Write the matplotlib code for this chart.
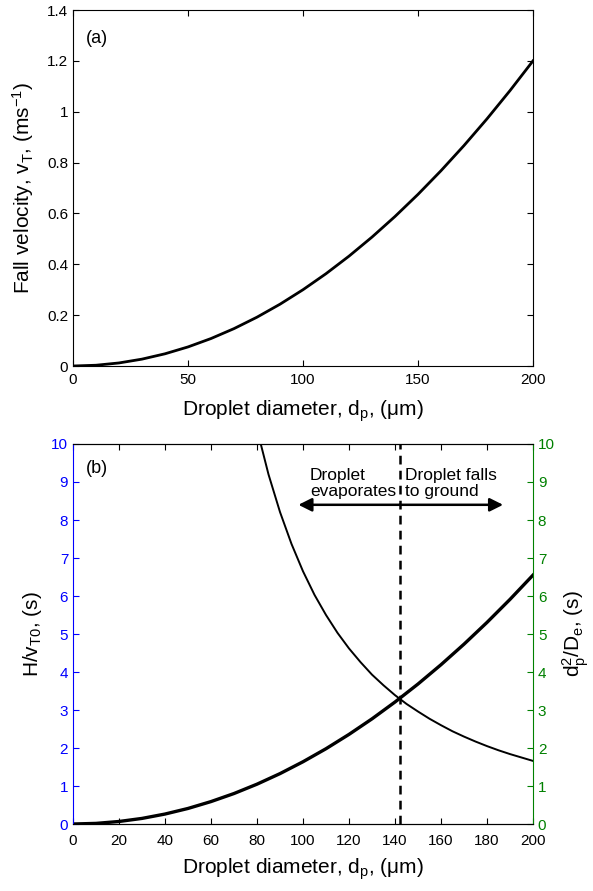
import numpy as np
import matplotlib
matplotlib.use("Agg")
import matplotlib.pyplot as plt

plt.rcParams['font.family'] = ['Liberation Sans', 'DejaVu Sans']
plt.rcParams['mathtext.fontset'] = 'custom'
plt.rcParams['mathtext.rm'] = 'Liberation Sans'
plt.rcParams['mathtext.it'] = 'Liberation Sans'

# panel (a): fall velocity vs droplet diameter
diam_a = [0, 10, 20, 30, 40, 50, 60, 70, 80, 90, 100,
          110, 120, 130, 140, 150, 160, 170, 180, 190, 200]
v_fall = [0, 0.003, 0.012, 0.027, 0.048, 0.075, 0.108, 0.147, 0.192, 0.243, 0.300,
          0.363, 0.432, 0.507, 0.588, 0.675, 0.768, 0.867, 0.972, 1.083, 1.200]

# panel (b): settling time H/vT0 (left axis)
diam_b = [0, 10, 20, 30, 40, 50, 60, 70, 80, 90, 100,
          110, 120, 130, 140, 150, 160, 170, 180, 190, 200]
t_fall = [0, 0.016, 0.066, 0.147, 0.262, 0.409, 0.590, 0.802, 1.048, 1.326, 1.638,
          1.981, 2.358, 2.767, 3.210, 3.684, 4.192, 4.732, 5.305, 5.911, 6.550]

# evaporation time dp^2/De (right axis)
diam_e = [80, 85, 90, 95, 100, 105, 110, 115, 120, 125, 130, 135, 140,
          145, 150, 155, 160, 165, 170, 175, 180, 185, 190, 195, 200]
t_evap = [10.39, 9.20, 8.21, 7.37, 6.65, 6.03, 5.50, 5.03, 4.62, 4.26, 3.93, 3.65, 3.39,
          3.16, 2.96, 2.77, 2.60, 2.44, 2.30, 2.17, 2.05, 1.94, 1.84, 1.75, 1.66]

d_cross = 142
arrow_left = 98
arrow_right = 187
arrow_y = 8.4

blue = (0, 0, 1)
green = (0, 0.5, 0)


def main():
    fig = plt.figure(figsize=(5.93, 8.91), dpi=100)

    # ---- panel (a)
    ax1 = fig.add_axes([73 / 593, 1 - 366 / 891, 460 / 593, 356 / 891])
    ax1.plot(diam_a, v_fall, color='black', lw=2.0)
    ax1.set_xlim(0, 200)
    ax1.set_ylim(0, 1.4)
    ax1.set_xticks([0, 50, 100, 150, 200])
    ax1.set_yticks([0, 0.2, 0.4, 0.6, 0.8, 1.0, 1.2, 1.4])
    ax1.set_yticklabels(['0', '0.2', '0.4', '0.6', '0.8', '1', '1.2', '1.4'])
    ax1.tick_params(direction='in', top=True, right=True, labelsize=11, length=4)
    ax1.tick_params(axis='x', pad=5)
    ax1.set_xlabel('Droplet diameter, d$_\\mathrm{p}$, (μm)', fontsize=15, labelpad=8.3)
    ax1.set_ylabel('Fall velocity, v$_\\mathrm{T}$, (ms$^{\\mathrm{-1}}$)', fontsize=15,
                   labelpad=7.6)
    ax1.text(0.028, 0.907, '(a)', transform=ax1.transAxes, fontsize=13)

    # ---- panel (b)
    ax2 = fig.add_axes([73 / 593, 1 - 824 / 891, 460 / 593, 380 / 891])
    ax2.plot(diam_b, t_fall, color='black', lw=2.4)
    ax2.set_xlim(0, 200)
    ax2.set_ylim(0, 10)
    ax2.set_xticks(range(0, 201, 20))
    ax2.set_yticks(range(0, 11))
    ax2.tick_params(axis='x', direction='in', top=True, labelsize=11, length=4, pad=7)
    ax2.tick_params(axis='y', direction='in', colors=blue, labelsize=11, length=4)
    ax2.spines['left'].set_color(blue)
    ax2.spines['right'].set_visible(False)
    ax2.set_xlabel('Droplet diameter, d$_\\mathrm{p}$, (μm)', fontsize=15, labelpad=6)
    ax2.set_ylabel('H/v$_\\mathrm{T0}$, (s)', fontsize=15, labelpad=5.5)

    ax3 = ax2.twinx()
    ax3.plot(diam_e, t_evap, color='black', lw=1.4)
    ax3.set_ylim(0, 10)
    ax3.set_yticks(range(0, 11))
    ax3.tick_params(axis='y', direction='in', colors=green, labelsize=11, length=4)
    ax3.spines['right'].set_color(green)
    ax3.spines['left'].set_visible(False)
    ax3.set_ylabel('d$_\\mathrm{p}^\\mathrm{2}$/D$_\\mathrm{e}$, (s)', fontsize=15)

    ax2.axvline(d_cross, color='black', lw=1.8, ls=(0, (3.5, 2.5)))
    ax2.annotate('', xy=(arrow_left, arrow_y), xytext=(d_cross, arrow_y),
                 arrowprops=dict(arrowstyle='-|>', color='black', lw=1.8,
                                 mutation_scale=20, shrinkA=0, shrinkB=0))
    ax2.annotate('', xy=(arrow_right, arrow_y), xytext=(d_cross, arrow_y),
                 arrowprops=dict(arrowstyle='-|>', color='black', lw=1.8,
                                 mutation_scale=20, shrinkA=0, shrinkB=0))
    ax2.text(103, 8.55, 'Droplet\nevaporates', fontsize=12.5, ha='left', va='bottom',
             linespacing=1.1)
    ax2.text(144.5, 8.55, 'Droplet falls\nto ground', fontsize=12.5, ha='left', va='bottom',
             linespacing=1.1)
    ax2.text(0.028, 0.924, '(b)', transform=ax2.transAxes, fontsize=13)

    fig.savefig('out.png', dpi=100)


if __name__ == "__main__":
    main()
